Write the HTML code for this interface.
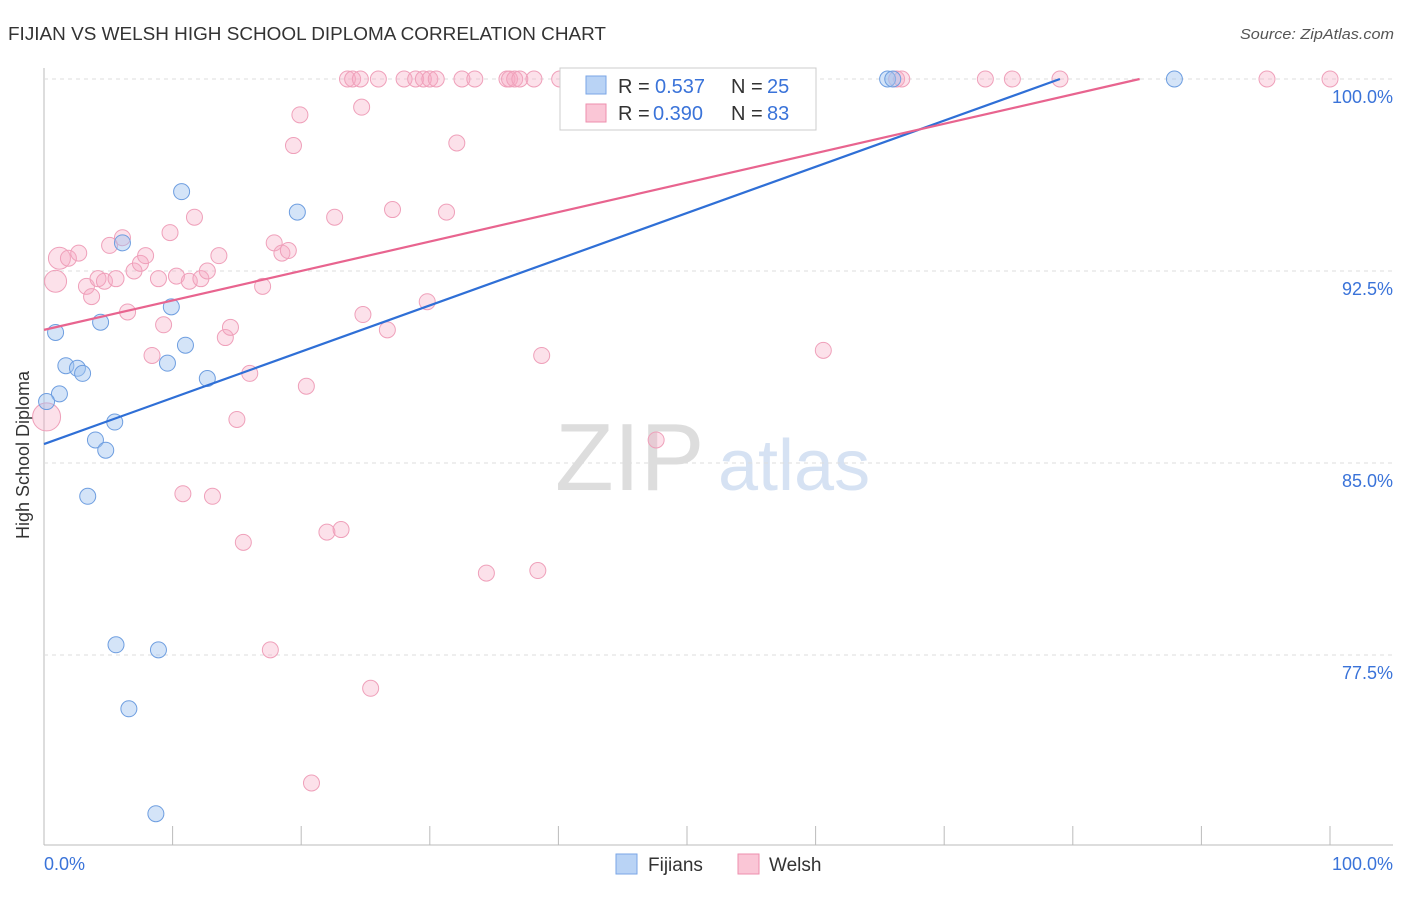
<!DOCTYPE html>
<html><head><meta charset="utf-8"><style>
body{margin:0;background:#fff;font-family:"Liberation Sans",sans-serif;}
svg text{font-family:"Liberation Sans",sans-serif;}
</style></head><body>
<svg width="1406" height="892" id="chart">
<text x="8" y="40" font-size="18" fill="#333" textLength="598" lengthAdjust="spacingAndGlyphs">FIJIAN VS WELSH HIGH SCHOOL DIPLOMA CORRELATION CHART</text>
<text x="1394" y="39" font-size="15" fill="#555" text-anchor="end" font-style="italic" textLength="154" lengthAdjust="spacingAndGlyphs">Source: ZipAtlas.com</text>
<text x="29" y="455" font-size="18" fill="#333" text-anchor="middle" transform="rotate(-90 29 455)">High School Diploma</text>
<text x="555" y="490" font-size="96" fill="#ddd" font-family="Liberation Serif">ZIP</text>
<text x="718" y="490" font-size="72" fill="#d6e2f3">atlas</text>
<g id="grid"></g><g id="pts"></g><g id="lines"></g>
<g>
<rect x="560" y="68" width="256" height="62" fill="#fff" stroke="#ccc"/>
<rect x="586" y="76" width="20" height="18" fill="#b9d3f5" stroke="#7aa6e6"/>
<rect x="586" y="104" width="20" height="18" fill="#fac6d6" stroke="#ee8fae"/>
<text x="618" y="93" font-size="20" fill="#333">R =</text>
<text x="655" y="93" font-size="20" fill="#3a73d9">0.537</text>
<text x="731" y="93" font-size="20" fill="#333">N =</text>
<text x="767" y="93" font-size="20" fill="#3a73d9">25</text>
<text x="618" y="120" font-size="20" fill="#333">R =</text>
<text x="653" y="120" font-size="20" fill="#3a73d9">0.390</text>
<text x="731" y="120" font-size="20" fill="#333">N =</text>
<text x="767" y="120" font-size="20" fill="#3a73d9">83</text>
</g>
<g>
<rect x="616" y="854" width="21" height="20" fill="#b9d3f5" stroke="#7aa6e6"/>
<text x="648" y="871" font-size="19" fill="#333">Fijians</text>
<rect x="738" y="854" width="21" height="20" fill="#fac6d6" stroke="#ee8fae"/>
<text x="769" y="871" font-size="19" fill="#333">Welsh</text>
</g>
</svg>
<script>
const yTicks=[100,92.5,85,77.5];
const yTickLabels=["100.0%","92.5%","85.0%","77.5%"];
const fijX=[0.9,1.7,2.6,3.0,1.2,0.2,4.4,5.5,4.0,4.8,3.4,6.1,10.7,9.9,11.0,9.6,12.7,19.7,5.6,8.9,6.6,8.7,65.6,87.9,66.0];
const fijY=[90.1,88.8,88.7,88.5,87.7,87.4,90.5,86.6,85.9,85.5,83.7,93.6,95.6,91.1,89.6,88.9,88.3,94.8,77.9,77.7,75.4,71.3,100,100,100];
const welX=[1.2,1.9,2.7,0.9,0.2,3.3,3.7,4.2,4.7,5.1,5.6,6.1,6.5,7.0,7.5,7.9,8.4,8.9,9.3,9.8,10.3,10.8,11.3,11.7,12.2,12.7,13.1,13.6,14.1,14.5,15.0,15.5,16.0,17.0,17.6,17.9,18.5,19.0,19.4,19.9,20.4,20.8,22.0,22.6,23.1,23.6,24.0,24.6,24.7,24.8,25.4,26.0,26.7,27.1,28.0,28.9,29.5,29.8,30.0,30.5,31.3,32.1,32.5,33.5,34.4,36.0,36.2,36.6,37.0,38.1,38.4,38.7,40.1,41.4,45.7,47.6,60.6,66.3,66.7,73.2,75.3,79.0,95.1,100];
const welY=[93.0,93.0,93.2,92.1,86.8,91.9,91.5,92.2,92.1,93.5,92.2,93.8,90.9,92.5,92.8,93.1,89.2,92.2,90.4,94.0,92.3,83.8,92.1,94.6,92.2,92.5,83.7,93.1,89.9,90.3,86.7,81.9,88.5,91.9,77.7,93.6,93.2,93.3,97.4,98.6,88.0,72.5,82.3,94.6,82.4,100,100,100,98.9,90.8,76.2,100,90.2,94.9,100,100,100,91.3,100,100,94.8,97.5,100,100,80.7,100,100,100,100,100,80.8,89.2,100,100,100,85.9,89.4,100,100,100,100,100,100,100];
const blueLine=[[0,85.74],[79.0,100]];
const pinkLine=[[0,90.2],[85.2,100]];
const xs=v=>44+v*12.86, ys=v=>79+(100-v)*25.6;
const NS="http://www.w3.org/2000/svg";
function mk(t,a,p){const e=document.createElementNS(NS,t);for(const k in a)e.setAttribute(k,a[k]);p.appendChild(e);return e;}
const g=document.getElementById('grid');
const ax=mk('line',{x1:44,y1:68,x2:44,y2:845,stroke:'#bbb'},g);


const bx=mk('line',{x1:44,y1:845,x2:1393,y2:845,stroke:'#bbb'},g);


yTicks.forEach((v,i)=>{
 const l=mk('line',{x1:44,x2:1393,y1:ys(v),y2:ys(v),stroke:'#ddd','stroke-dasharray':'4,4'},g);
 
 
 const t=mk('text',{x:1393,y:ys(v)+24,'font-size':18,fill:'#3a73d9','text-anchor':'end'},g);t.textContent=yTickLabels[i];
 
 
});
for(let i=1;i<=10;i++){const l=mk('line',{x1:xs(i*10),x2:xs(i*10),y1:826,y2:845,stroke:'#bbb'},g);
 
 }
[["0.0%",44,'start'],["100.0%",1393,'end']].forEach(a=>{const t=mk('text',{x:a[1],y:870,'font-size':18,fill:'#3a73d9','text-anchor':a[2]},g);t.textContent=a[0];
 
 });
const p=document.getElementById('pts');
welX.forEach((x,i)=>{const c=mk('circle',{cx:xs(x),cy:ys(welY[i]),r:(i==4?14:(i==0||i==3)?11:8),fill:'rgba(246,170,195,0.35)',stroke:'#efa0ba','stroke-width':1},p);
 
 });
fijX.forEach((x,i)=>{const c=mk('circle',{cx:xs(x),cy:ys(fijY[i]),r:8,fill:'rgba(160,195,240,0.45)',stroke:'#6e9ee0','stroke-width':1},p);
 
 });
const L=document.getElementById('lines');
const b=mk('line',{x1:xs(blueLine[0][0]),y1:ys(blueLine[0][1]),x2:xs(blueLine[1][0]),y2:ys(blueLine[1][1]),stroke:'#2f6fd6','stroke-width':2.2},L);


const k=mk('line',{x1:xs(pinkLine[0][0]),y1:ys(pinkLine[0][1]),x2:xs(pinkLine[1][0]),y2:ys(pinkLine[1][1]),stroke:'#e8648f','stroke-width':2.2},L);


</script>
</body></html>
